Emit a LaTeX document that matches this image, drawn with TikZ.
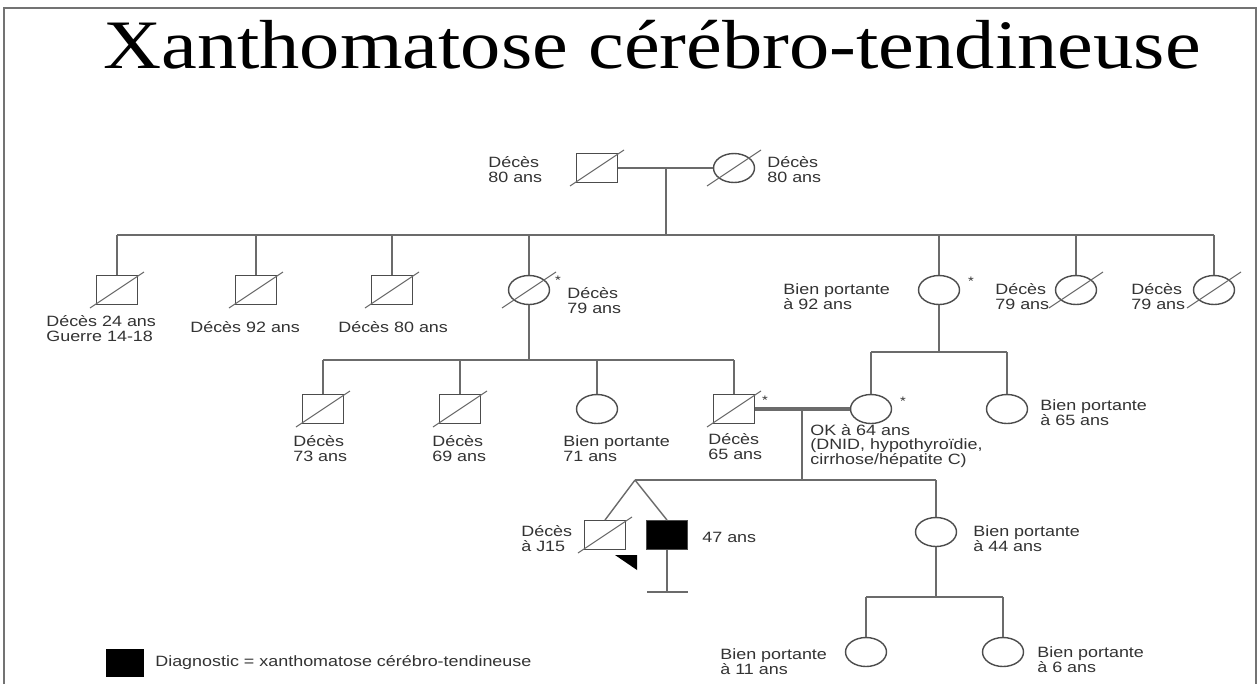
\documentclass[tikz,border=0pt]{standalone}
\usepackage{fontspec}
\setmainfont{Liberation Sans}
\newfontfamily\pedfont[FakeStretch=1.2]{Liberation Sans}
\newfontfamily\titlefont[FakeStretch=1.16]{Liberation Serif}
\usetikzlibrary{shapes.geometric}
\definecolor{pedgray}{gray}{0.42}
\newcommand{\deceased}[1]{\draw[slashline] ([shift={(-27,18)}]#1.center) -- ([shift={(27,-18)}]#1.center);}

\begin{document}
\begin{tikzpicture}[x=0.02cm, y=-0.02cm]
  \tikzstyle{malebox} = [rectangle, draw=black!70, line width=0.8pt, minimum width=0.82cm, minimum height=0.57cm, inner sep=0pt]
  \tikzstyle{femalecircle} = [ellipse, draw=black!70, line width=0.8pt, minimum width=0.82cm, minimum height=0.58cm, inner sep=0pt]
  \tikzstyle{pedlabel} = [anchor=west, align=left, inner sep=0pt, text=black!80, font=\pedfont\fontsize{8.5}{8.5}\selectfont]
  \tikzstyle{starmark} = [inner sep=0pt, text=black!80, font=\pedfont\fontsize{7}{7}\selectfont]
  \tikzstyle{pedline} = [draw=pedgray, line width=0.8pt]
  \tikzstyle{marriage} = [draw=pedgray, line width=1.8pt]
  \tikzstyle{slashline} = [draw=pedgray, line width=0.6pt]

  \useasboundingbox[fill=white] (0,0) rectangle (1260,684);
  \draw[black!55, line width=1.5pt] (4,684) -- (4,8) -- (1256,8) -- (1256,684);
  \node[anchor=base, inner sep=0pt, font=\titlefont\fontsize{39.5}{39.5}\selectfont] (title) at (652,68) {Xanthomatose cérébro-tendineuse};

  % generation I
  \node[malebox] (i1) at (597,168) {};
  \node[femalecircle] (i2) at (734,168) {};
  \deceased{i1} \deceased{i2}
  \node[pedlabel] (i1lab) at (488,170) {Décès\\80 ans};
  \node[pedlabel] (i2lab) at (767,170) {Décès\\80 ans};
  \coordinate (m1) at (666,168);
  \coordinate (sib1) at (666,235);
  \draw[pedline] (i1.east) -- (i2.west);
  \draw[pedline] (m1) -- (sib1);

  % generation II
  \node[malebox] (ii1) at (117,290) {};
  \node[malebox] (ii2) at (256,290) {};
  \node[malebox] (ii3) at (392,290) {};
  \node[femalecircle] (ii4) at (529,290) {};
  \node[femalecircle] (ii5) at (939,290) {};
  \node[femalecircle] (ii6) at (1076,290) {};
  \node[femalecircle] (ii7) at (1214,290) {};
  \foreach \p in {ii1,ii2,ii3,ii4,ii6,ii7} {\deceased{\p}}
  \draw[pedline] (ii1.north |- sib1) -- (ii7.north |- sib1);
  \foreach \p in {ii1,ii2,ii3,ii4,ii5,ii6,ii7}
    \draw[pedline] (\p.north |- sib1) -- (\p.north);
  \node[pedlabel] (ii1lab) at (46,329) {Décès 24 ans\\Guerre 14-18};
  \node[pedlabel] (ii2lab) at (190,327) {Décès 92 ans};
  \node[pedlabel] (ii3lab) at (338,327) {Décès 80 ans};
  \node[starmark] (ii4star) at (558,280) {*};
  \node[pedlabel] (ii4lab) at (567,301) {Décès\\79 ans};
  \node[pedlabel] (ii5lab) at (783,297) {Bien portante\\à 92 ans};
  \node[starmark] (ii5star) at (971,281) {*};
  \node[pedlabel] (ii6lab) at (995,297) {Décès\\79 ans};
  \node[pedlabel] (ii7lab) at (1131,297) {Décès\\79 ans};

  % generation III
  \coordinate (sib2) at (529,360);
  \coordinate (sib3) at (939,352);
  \node[malebox] (iii1) at (323,409) {};
  \node[malebox] (iii2) at (460,409) {};
  \node[femalecircle] (iii3) at (597,409) {};
  \node[malebox] (iii4) at (734,409) {};
  \node[femalecircle] (iii5) at (871,409) {};
  \node[femalecircle] (iii6) at (1007,409) {};
  \foreach \p in {iii1,iii2,iii4} {\deceased{\p}}
  \draw[pedline] (ii4.south) -- (sib2);
  \draw[pedline] (iii1.north |- sib2) -- (iii4.north |- sib2);
  \foreach \p in {iii1,iii2,iii3,iii4}
    \draw[pedline] (\p.north |- sib2) -- (\p.north);
  \draw[pedline] (ii5.south) -- (sib3);
  \draw[pedline] (iii5.north |- sib3) -- (iii6.north |- sib3);
  \foreach \p in {iii5,iii6}
    \draw[pedline] (\p.north |- sib3) -- (\p.north);
  \draw[marriage] (iii4.east) -- (iii5.west);
  \node[pedlabel] (iii1lab) at (293,449) {Décès\\73 ans};
  \node[pedlabel] (iii2lab) at (432,449) {Décès\\69 ans};
  \node[pedlabel] (iii3lab) at (563,449) {Bien portante\\71 ans};
  \node[pedlabel] (iii4lab) at (708,447) {Décès\\65 ans};
  \node[starmark] (iii4star) at (765,400) {*};
  \node[starmark] (iii5star) at (903,401) {*};
  \node[pedlabel] (iii5lab) at (810,446) {OK à 64 ans\\(DNID, hypothyroïdie,\\cirrhose/hépatite C)};
  \node[pedlabel] (iii6lab) at (1040,413) {Bien portante\\à 65 ans};

  % generation IV
  \coordinate (m2) at (802,409);
  \coordinate (sib4) at (802,480);
  \coordinate (twin) at (635,480);
  \node[malebox] (iv1) at (605,535) {};
  \node[malebox, fill=black] (iv2) at (667,535) {};
  \node[femalecircle] (iv3) at (936,532) {};
  \deceased{iv1}
  \draw[pedline] (m2) -- (sib4);
  \draw[pedline] (twin) -- (iv3.north |- sib4);
  \draw[pedline] (twin) -- (iv1.north);
  \draw[pedline] (twin) -- (iv2.north);
  \draw[pedline] (iv3.north |- sib4) -- (iv3.north);
  \coordinate (iv2end) at (667,592);
  \coordinate (bar1) at (647,592);
  \coordinate (bar2) at (688,592);
  \draw[pedline] (iv2.south) -- (iv2end);
  \draw[pedline] (bar1) -- (bar2);
  \fill (615,555) -- (637,555) -- (637,570) -- cycle;
  \node[pedlabel] (iv1lab) at (521,539) {Décès\\à J15};
  \node[pedlabel] (iv2lab) at (702,537) {47 ans};
  \node[pedlabel] (iv3lab) at (973,539) {Bien portante\\à 44 ans};

  % generation V
  \coordinate (sib5) at (936,597);
  \node[femalecircle] (v1) at (866,652) {};
  \node[femalecircle] (v2) at (1003,652) {};
  \draw[pedline] (iv3.south) -- (sib5);
  \draw[pedline] (v1.north |- sib5) -- (v2.north |- sib5);
  \foreach \p in {v1,v2}
    \draw[pedline] (\p.north |- sib5) -- (\p.north);
  \node[pedlabel] (v1lab) at (720,662) {Bien portante\\à 11 ans};
  \node[pedlabel] (v2lab) at (1037,660) {Bien portante\\à 6 ans};

  % legend
  \node[rectangle, fill=black, minimum width=0.78cm, minimum height=0.56cm, inner sep=0pt] (legbox) at (125,663) {};
  \node[pedlabel] (leglab) at (155,663) {Diagnostic = xanthomatose cérébro-tendineuse};
\end{tikzpicture}
\end{document}
